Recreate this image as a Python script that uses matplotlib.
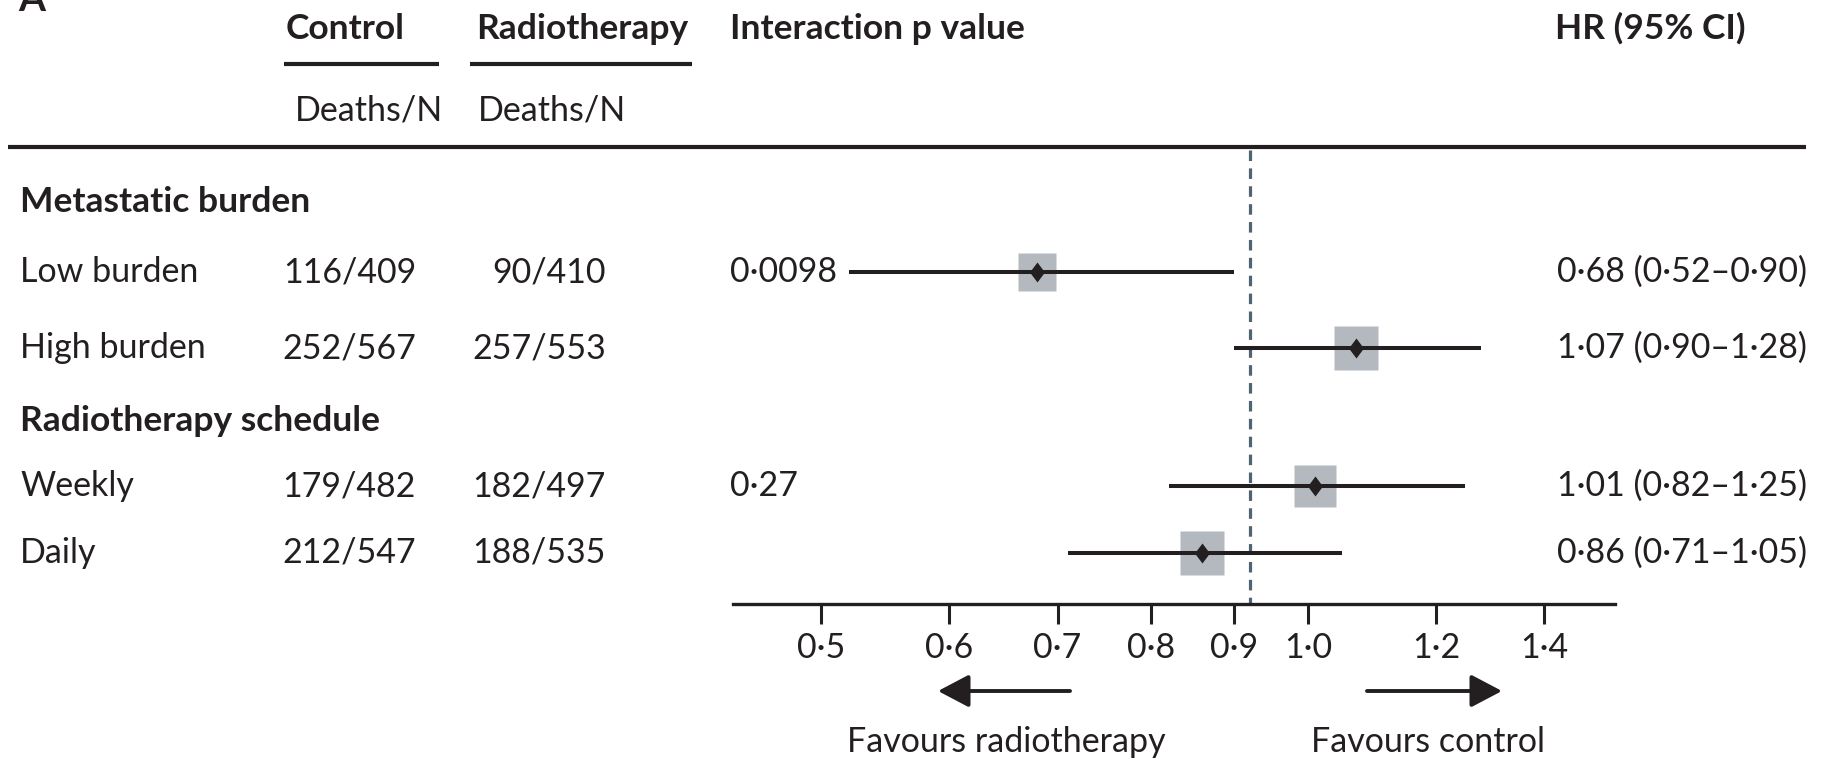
# Forest plot: overall survival by metastatic burden and radiotherapy schedule

import matplotlib.pyplot as plt
from matplotlib.path import Path
from matplotlib.ticker import NullLocator

# subgroup data
labels = ['Low burden', 'High burden', 'Weekly', 'Daily']
control = ['116/409', '252/567', '179/482', '212/547']
radio = ['90/410', '257/553', '182/497', '188/535']
pvals = ['0·0098', '', '0·27', '']
hr = [0.68, 1.07, 1.01, 0.86]
ci_lo = [0.52, 0.90, 0.82, 0.71]
ci_hi = [0.90, 1.28, 1.25, 1.05]
sections = ['Metastatic burden', 'Radiotherapy schedule']

ticks = [0.5, 0.6, 0.7, 0.8, 0.9, 1.0, 1.2, 1.4]
tick_labels = ['0·5', '0·6', '0·7', '0·8', '0·9', '1·0', '1·2', '1·4']
ref_line = 0.92


def fmt(v):
    return f'{v:.2f}'.replace('.', '·')


plt.rcParams['font.family'] = ['Lato', 'DejaVu Sans']
ink = '#231f20'
fs = 24.5
fsb = 25.5

W, H = 1829, 762
fig = plt.figure(figsize=(W / 100, H / 100), dpi=100)

# background axes in pixel units for the table part
bg = fig.add_axes([0, 0, 1, 1])
bg.set_xlim(0, W)
bg.set_ylim(H, 0)
bg.axis('off')

# row layout (pixels from top)
row_y = [272, 348, 486, 553]
section_y = [201, 420]

bg.text(18, 11, 'A', fontsize=28, fontweight='bold', color=ink, va='baseline')
for x, t in [(286, 'Control'), (476, 'Radiotherapy'), (730, 'Interaction p value'), (1555, 'HR (95% CI)')]:
    bg.text(x, 39, t, fontsize=fsb, fontweight='bold', color=ink, va='baseline')
bg.plot([284, 439], [64, 64], color=ink, lw=3, solid_capstyle='butt')
bg.plot([470, 692], [64, 64], color=ink, lw=3, solid_capstyle='butt')
bg.text(295, 120, 'Deaths/N', fontsize=fs, color=ink, va='baseline')
bg.text(478, 120, 'Deaths/N', fontsize=fs, color=ink, va='baseline')
bg.plot([8, 1806], [147, 147], color=ink, lw=3, solid_capstyle='butt')

for y, s in zip(section_y, sections):
    bg.text(20, y + 11, s, fontsize=fsb, fontweight='bold', color=ink, va='baseline')

for i, y in enumerate(row_y):
    yb = y + 10
    bg.text(20, yb, labels[i], fontsize=fs, color=ink, va='baseline')
    bg.text(416, yb, control[i], fontsize=fs, color=ink, va='baseline', ha='right')
    bg.text(606, yb, radio[i], fontsize=fs, color=ink, va='baseline', ha='right')
    if pvals[i]:
        bg.text(730, yb, pvals[i], fontsize=fs, color=ink, va='baseline')
    bg.text(1557, yb, f'{fmt(hr[i])} ({fmt(ci_lo[i])}–{fmt(ci_hi[i])})',
            fontsize=fs, color=ink, va='baseline')

# direction arrows
arrow = dict(arrowstyle='-|>,head_length=0.95,head_width=0.5', mutation_scale=20,
             color=ink, lw=2.8, shrinkA=0, shrinkB=0)
bg.annotate('', xy=(938, 691), xytext=(1070, 691), arrowprops=arrow)
bg.annotate('', xy=(1502, 691), xytext=(1367, 691), arrowprops=arrow)
bg.text(1006, 752, 'Favours radiotherapy', fontsize=fs, color=ink, va='baseline', ha='center')
bg.text(1428, 752, 'Favours control', fontsize=fs, color=ink, va='baseline', ha='center')

# forest axes on a log scale
ax = fig.add_axes([733 / W, 0, (1615 - 733) / W, 1])
ax.patch.set_alpha(0)
ax.set_xscale('log')
ax.set_xlim(0.441, 1.548)
ax.set_ylim(H, 0)
for s in ['top', 'left', 'right']:
    ax.spines[s].set_visible(False)
ax.spines['bottom'].set_position(('data', 604))
ax.spines['bottom'].set_linewidth(2.4)
ax.spines['bottom'].set_color(ink)
ax.set_xticks(ticks)
ax.set_xticklabels(tick_labels)
ax.xaxis.set_minor_locator(NullLocator())
ax.set_yticks([])
ax.tick_params(axis='x', length=14.4, width=2.2, color=ink, pad=6, labelsize=fs, labelcolor=ink)

ax.vlines(ref_line, 150, 604, colors='#4f6470', lw=2.3, linestyles=(0, (3.3, 2.3)))

box_size = [28, 31.5, 30.5, 31.5]
diamond = Path([(0, 1), (0.75, 0), (0, -1), (-0.75, 0), (0, 1)],
               [Path.MOVETO, Path.LINETO, Path.LINETO, Path.LINETO, Path.CLOSEPOLY])
for i, y in enumerate(row_y):
    ax.plot(hr[i], y, marker='s', ms=box_size[i], color='#b4b9bf', mec='none', zorder=2)
ax.hlines(row_y, ci_lo, ci_hi, colors=ink, lw=2.9, zorder=3)
ax.plot(hr, row_y, ls='none', marker=diamond, ms=14.4, color=ink, mec='none', zorder=4)

fig.savefig('out.png', dpi=100)
